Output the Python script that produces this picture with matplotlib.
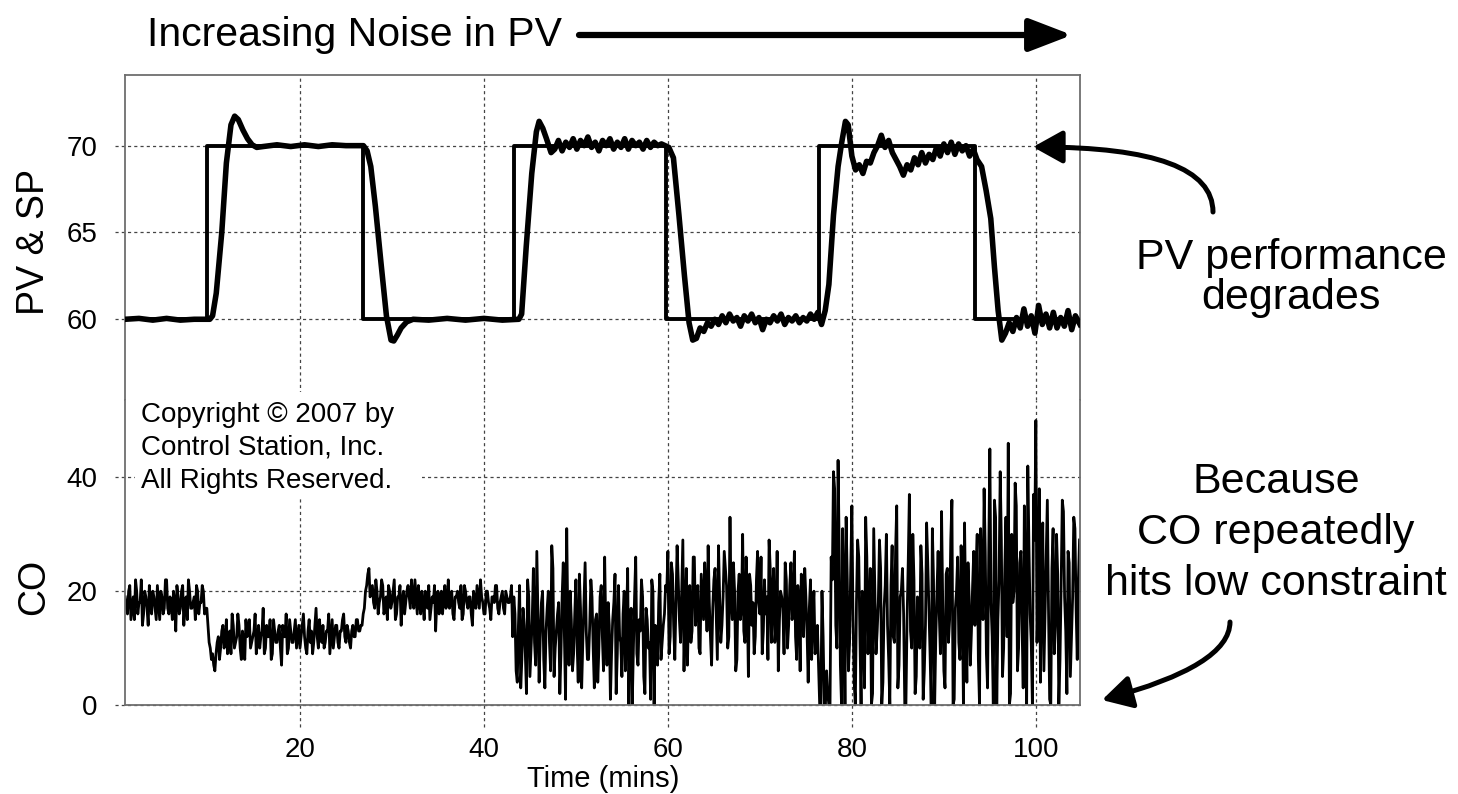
import numpy as np
import matplotlib
matplotlib.use('Agg')
import matplotlib.pyplot as plt
from matplotlib.patches import FancyArrowPatch, Rectangle

plt.rcParams['font.family'] = ['Liberation Sans', 'DejaVu Sans']

# set point (time, value), drawn as steps
sp_points = [(1.0, 60), (9.9, 70), (26.8, 60), (43.3, 70), (59.8, 60),
             (76.4, 70), (93.4, 60), (104.8, 60)]

# process variable (time, value)
pv_points = [
    (1.0, 60.0), (2.5, 60.05), (4.0, 59.95), (5.5, 60.05), (7.0, 59.95), (8.5, 60.0),
    (10.2, 60.0), (10.5, 60.2), (10.9, 61.5), (11.5, 65.0), (12.0, 69.0), (12.5, 71.2),
    (12.9, 71.7), (13.3, 71.5), (13.8, 70.9), (14.3, 70.4), (14.8, 70.05), (15.3, 69.9),
    (16.0, 69.95), (17.5, 70.05), (19.0, 69.95), (20.5, 70.05), (22.0, 69.95), (23.5, 70.05),
    (25.0, 70.0), (26.5, 70.0), (26.9, 70.0), (27.3, 69.7), (27.7, 68.8), (28.2, 66.5),
    (28.8, 63.3), (29.4, 60.2), (29.9, 58.8), (30.2, 58.75), (30.6, 59.1), (31.0, 59.5),
    (31.6, 59.85), (32.3, 60.0), (34.0, 59.95), (36.0, 60.05), (38.0, 59.95), (40.0, 60.05),
    (42.0, 59.95), (43.8, 60.0),
    (44.1, 60.3), (44.6, 64.2), (45.2, 68.4), (45.7, 70.8), (46.0, 71.4), (46.4, 71.0),
    (46.8, 70.4), (47.3, 69.6), (47.7, 69.8), (48.1, 70.3), (48.5, 69.7), (48.9, 70.2),
    (49.3, 69.9), (49.7, 70.4), (50.1, 69.8), (50.5, 70.3), (50.9, 70.0), (51.3, 70.5),
    (51.7, 69.9), (52.1, 70.2), (52.5, 69.7), (52.9, 70.3), (53.3, 70.0), (53.7, 70.4),
    (54.1, 69.8), (54.5, 70.2), (54.9, 69.9), (55.3, 70.4), (55.7, 69.8), (56.1, 70.3),
    (56.5, 70.0), (56.9, 70.2), (57.3, 69.8), (57.7, 70.3), (58.1, 69.9), (58.5, 70.2),
    (58.9, 70.0), (59.3, 70.1), (59.7, 70.0),
    (60.1, 69.9), (60.6, 69.3), (61.2, 66.0), (61.8, 62.5), (62.3, 59.8), (62.7, 58.8),
    (63.1, 58.9), (63.5, 59.5), (63.9, 59.3), (64.3, 59.8), (64.7, 59.6), (65.1, 60.0),
    (65.5, 59.7), (65.9, 60.2), (66.3, 59.8), (66.7, 60.3), (67.1, 59.9), (67.5, 60.1),
    (67.9, 59.6), (68.3, 60.2), (68.7, 59.9), (69.1, 60.3), (69.5, 59.8), (69.9, 60.1),
    (70.3, 59.4), (70.7, 60.0), (71.1, 59.8), (71.5, 60.2), (71.9, 59.9), (72.3, 60.3),
    (72.7, 59.7), (73.1, 60.1), (73.5, 59.9), (73.9, 60.2), (74.3, 59.8), (74.7, 60.1),
    (75.1, 59.9), (75.5, 60.3), (75.9, 60.0), (76.3, 60.4), (76.7, 59.7), (77.1, 60.5),
    (77.5, 62.0), (78.0, 66.0), (78.5, 68.8), (78.9, 70.2), (79.3, 71.4), (79.6, 71.2),
    (80.0, 69.4), (80.4, 68.6), (80.8, 68.9), (81.2, 68.4), (81.6, 69.1), (82.0, 69.0),
    (82.4, 69.6), (82.8, 70.0), (83.2, 70.6), (83.6, 69.9), (84.0, 70.3), (84.4, 69.6),
    (84.8, 69.2), (85.2, 68.8), (85.6, 68.3), (86.0, 68.9), (86.4, 68.6), (86.8, 69.3),
    (87.2, 68.9), (87.6, 69.6), (88.0, 69.0), (88.4, 69.5), (88.8, 69.2), (89.2, 69.9),
    (89.6, 69.4), (90.0, 70.1), (90.4, 69.6), (90.8, 70.2), (91.2, 69.5), (91.6, 70.1),
    (92.0, 69.7), (92.4, 70.0), (92.8, 69.4), (93.2, 69.8), (93.6, 69.2),
    (94.1, 68.8), (94.6, 67.4), (95.1, 65.8), (95.5, 63.0), (95.9, 60.5), (96.3, 58.8),
    (96.7, 59.2), (97.1, 59.8), (97.5, 59.3), (97.9, 60.1), (98.3, 59.5), (98.7, 60.6),
    (99.1, 59.6), (99.5, 60.2), (99.9, 59.2), (100.3, 60.8), (100.7, 59.7), (101.1, 60.3),
    (101.5, 59.5), (101.9, 60.4), (102.3, 59.5), (102.7, 60.1), (103.1, 59.6), (103.5, 60.5),
    (103.9, 59.4), (104.3, 60.2), (104.8, 59.7),
]

# controller output, one value every 0.25 min from t = 1.0
co_start = 1.0
co_step = 0.25
co_values = [
    # 1 - 9.75
    19, 16, 21, 17, 15, 20, 18, 22, 16, 19, 14, 18, 20, 17, 21, 15, 19, 17, 22, 16,
    18, 20, 13, 19, 17, 21, 18, 15, 20, 17, 19, 21, 16, 18, 20, 17,
    # 10 - 26.75
    14, 10, 9, 6, 11, 8, 13, 10, 15, 12, 9, 14, 11, 16, 10, 13, 8, 12, 15, 11,
    13, 9, 14, 12, 17, 10, 12, 15, 9, 13, 11, 14, 7, 12, 16, 10, 13, 11, 15, 12,
    10, 14, 12, 9, 15, 13, 11, 17, 10, 12, 14, 11, 13, 9, 15, 12, 14, 10, 13, 16,
    11, 13, 10, 14, 12, 15, 13, 14,
    # 27 - 43
    17, 21, 24, 20, 18, 22, 16, 19, 21, 17, 15, 20, 18, 22, 16, 19, 14, 20, 18, 21,
    17, 19, 22, 16, 18, 20, 15, 19, 21, 17, 18, 13, 20, 19, 16, 21, 18, 17, 20, 15,
    19, 18, 21, 16, 20, 17, 19, 14, 18, 21, 17, 19, 16, 20, 18, 15, 19, 21, 17, 18,
    20, 16, 19, 18, 21,
    # 43.25 - 59.75
    19, 6, 14, 3, 17, 9, 22, 5, 15, 11, 27, 4, 18, 8, 13, 20, 6, 24, 10, 16,
    2, 19, 12, 31, 7, 15, 9, 22, 4, 17, 11, 25, 8, 14, 19, 3, 16, 10, 21, 6,
    13, 18, 1, 15, 23, 9, 12, 5, 20, 14, 0, 17, 10, 26, 7, 13, 19, 2, 15, 11,
    22, 0, 12, 18, 8, 14, 21,
    # 60 - 76.25
    27, 12, 23, 8, 28, 15, 20, 6, 24, 17, 11, 26, 14, 21, 9, 19, 25, 13, 18, 7,
    22, 16, 28, 11, 19, 24, 10, 33, 15, 20, 8, 23, 17, 13, 26, 5, 21, 18, 12, 27,
    16, 9, 22, 19, 29, 11, 24, 14, 6, 20, 17, 25, 10, 21, 15, 27, 8, 18, 23, 12,
    19, 4, 22, 16, 9, 14,
    # 76.5 - 77.75
    0, 20, 0, 6, 0, 26,
    # 78 - 93.25
    41, 14, 43, 7, 31, 0, 22, 11, 35, 4, 18, 26, 0, 16, 33, 9, 24, 2, 20, 13,
    29, 0, 17, 30, 8, 21, 12, 27, 3, 19, 24, 0, 15, 37, 10, 22, 5, 18, 28, 1,
    14, 25, 9, 31, 0, 20, 16, 34, 6, 23, 11, 29, 0, 17, 26, 8, 21, 32, 4, 19,
    13, 27,
    # 93.5 - 104.75
    24, 8, 31, 15, 27, 3, 45, 12, 36, 0, 22, 29, 10, 33, 46, 2, 18, 39, 6, 25,
    14, 35, 0, 28, 11, 37, 50, 20, 4, 32, 16, 36, 1, 24, 9, 30, 0, 21, 34, 13,
    27, 5, 19, 31, 8, 29,
]

# controller output read in between, at t = 1.125, 1.375, ...
co_mid_values = [
    # 1.125 - 9.875
    17, 20, 15, 19, 22, 16, 18, 14, 20, 17, 21, 16, 19, 15, 18, 20, 16, 22, 17, 19,
    15, 18, 21, 16, 20, 14, 19, 22, 17, 18, 15, 20, 18, 21, 16, 17,
    # 10.125 - 26.875
    11, 8, 7, 9, 12, 10, 14, 11, 9, 13, 16, 10, 12, 14, 8, 11, 15, 13, 10, 12,
    16, 11, 10, 13, 9, 14, 12, 8, 15, 11, 13, 10, 14, 12, 9, 15, 11, 13, 10, 14,
    12, 16, 10, 13, 11, 9, 14, 12, 15, 11, 10, 13, 16, 12, 10, 14, 11, 13, 15, 12,
    14, 11, 13, 12, 15, 13, 14, 16,
    # 27.125 - 42.875
    20, 23, 19, 21, 17, 20, 18, 22, 16, 19, 21, 17, 20, 15, 19, 21, 18, 16, 20, 19,
    22, 17, 19, 21, 16, 18, 20, 17, 15, 19, 21, 18, 16, 20, 19, 17, 22, 18, 16, 19,
    20, 17, 15, 21, 18, 19, 16, 20, 17, 19, 22, 18, 16, 20, 17, 19, 18, 21, 16, 19,
    17, 20, 18, 19,
    # 43.125 - 59.625
    12, 16, 4, 21, 8, 14, 2, 19, 10, 24, 7, 15, 12, 20, 3, 17, 11, 28, 5, 13,
    18, 9, 25, 1, 14, 20, 6, 16, 11, 23, 3, 18, 13, 8, 22, 10, 15, 4, 19, 12,
    26, 7, 14, 9, 18, 2, 21, 11, 16, 6, 24, 13, 0, 19, 9, 15, 22, 5, 17, 10,
    1, 20, 14, 7, 23, 11, 16,
    # 59.875 - 76.125
    20, 9, 25, 14, 18, 22, 11, 29, 16, 7, 21, 13, 26, 18, 10, 23, 15, 20, 28, 12,
    17, 24, 8, 19, 14, 27, 21, 12, 18, 25, 6, 20, 15, 30, 11, 19, 23, 14, 9, 22,
    18, 26, 13, 16, 8, 24, 20, 11, 27, 15, 19, 9, 22, 14, 25, 17, 12, 21, 6, 19,
    24, 13, 17, 8, 20, 11,
    # 76.375 - 77.625
    7, 0, 12, 0, 2, 0,
    # 77.875 - 93.125
    22, 38, 10, 27, 0, 19, 33, 6, 24, 15, 0, 29, 12, 20, 3, 26, 17, 0, 31, 9,
    18, 24, 4, 21, 14, 0, 28, 11, 35, 7, 20, 16, 0, 25, 13, 30, 2, 19, 10, 23,
    6, 32, 17, 0, 22, 12, 27, 9, 18, 3, 24, 15, 36, 1, 20, 11, 28, 0, 16, 25,
    7, 21,
    # 93.375 - 104.625
    14, 30, 0, 21, 38, 9, 26, 18, 0, 33, 15, 41, 5, 24, 12, 0, 30, 20, 35, 10,
    27, 3, 19, 42, 16, 0, 29, 11, 38, 22, 6, 26, 17, 0, 31, 14, 23, 8, 36, 19,
    2, 25, 12, 33, 17, 22,
]

time_ticks = [20, 40, 60, 80, 100]
pv_ticks = [60, 65, 70]
co_ticks = [0, 20, 40]

W, H = 1458, 794


def fx(px):
    return px / W


def fy(py):
    return 1 - py / H


fig = plt.figure(figsize=(W / 100, H / 100), dpi=100)
ax_pv = fig.add_axes([fx(125), fy(400), fx(1080) - fx(125), fy(75) - fy(400)])
ax_co = fig.add_axes([fx(125), fy(705), fx(1080) - fx(125), fy(400) - fy(705)])

grid_style = dict(color='#444444', lw=0.9, ls=(0, (2.5, 2.5)), zorder=1)
ax_w = 1080 - 125

for ax in (ax_pv, ax_co):
    ax.set_xlim(0.98, 104.8)
    for side in ax.spines.values():
        side.set_color('#6e6e6e')
        side.set_linewidth(1.3)
    ax.tick_params(length=0, labelsize=20, pad=20)
ax_pv.spines['bottom'].set_visible(False)
ax_co.spines['top'].set_visible(False)

ax_pv.set_ylim(55.35, 74.07)
ax_co.set_ylim(0, 53.6)

# grid lines, run a little past the frame like tick marks
for v in pv_ticks:
    ax_pv.axhline(v, xmin=-10 / ax_w, xmax=1, clip_on=False, **grid_style)
for v in co_ticks:
    ax_co.axhline(v, xmin=-10 / ax_w, xmax=1, clip_on=False, **grid_style)
for t in time_ticks:
    ax_pv.axvline(t, **grid_style)
    ax_co.axvline(t, ymin=-22 / 305, ymax=1, clip_on=False, **grid_style)

sp_t, sp_v = zip(*sp_points)
pv_t, pv_v = zip(*pv_points)
ax_pv.plot(sp_t, sp_v, drawstyle='steps-post', color='black', lw=2.8, zorder=2)
ax_pv.plot(pv_t, pv_v, color='black', lw=4.0, solid_joinstyle='round', zorder=3)

# merge the two CO readings into one time-ordered trace
co_t = np.concatenate([co_start + co_step * np.arange(len(co_values)),
                       co_start + co_step / 2 + co_step * np.arange(len(co_mid_values))])
co_v = np.concatenate([co_values, co_mid_values])
order = np.argsort(co_t)
ax_co.plot(co_t[order], co_v[order], color='black', lw=2.0, zorder=2)

ax_pv.set_xticks([])
ax_pv.set_yticks(pv_ticks)
ax_co.set_yticks(co_ticks)
ax_co.set_xticks(time_ticks)
ax_co.tick_params(axis='x', pad=23)

fig.text(fx(603), fy(779), 'Time (mins)', fontsize=21, ha='center', va='center')
fig.text(fx(34), fy(242), 'PV & SP', fontsize=27, rotation=90, ha='center', va='center')
fig.text(fx(34), fy(587), 'CO', fontsize=27, rotation=90, ha='center', va='center')

# copyright box hides the grid behind it
fig.add_artist(Rectangle((fx(135), fy(498)), fx(422) - fx(135), fy(392) - fy(498),
                         transform=fig.transFigure, facecolor='white',
                         edgecolor='none', zorder=5))
fig.text(fx(141), fy(448), 'Copyright \u00a9 2007 by\nControl Station, Inc.\nAll Rights Reserved.',
         fontsize=20, ha='left', va='center', linespacing=1.37, zorder=6)

# title with arrow
fig.text(fx(147), fy(35), 'Increasing Noise in PV', fontsize=29.5, ha='left', va='center')
fig.add_artist(FancyArrowPatch((fx(579), fy(35)), (fx(1072), fy(35)),
                               transform=fig.transFigure,
                               arrowstyle='-|>,head_length=1.3,head_width=0.5',
                               mutation_scale=20, lw=4.5, color='black',
                               shrinkA=0, shrinkB=0))

# annotations on the right
fig.text(fx(1291), fy(278), 'PV performance\ndegrades', fontsize=31,
         ha='center', va='center', linespacing=1.0)
fig.add_artist(FancyArrowPatch((fx(1213), fy(212)), (fx(1033), fy(147)),
                               transform=fig.transFigure,
                               connectionstyle='angle3,angleA=90,angleB=0',
                               arrowstyle='-|>,head_length=0.9,head_width=0.5',
                               mutation_scale=20, lw=3.6, color='black',
                               shrinkA=0, shrinkB=0))

fig.text(fx(1276), fy(533), 'Because\nCO repeatedly\nhits low constraint', fontsize=31,
         ha='center', va='center', linespacing=1.35)
fig.add_artist(FancyArrowPatch((fx(1230), fy(622)), (fx(1102), fy(700)),
                               transform=fig.transFigure,
                               connectionstyle='angle3,angleA=90,angleB=15',
                               arrowstyle='-|>,head_length=0.9,head_width=0.5',
                               mutation_scale=20, lw=3.6, color='black',
                               shrinkA=0, shrinkB=0))

fig.savefig('out.png', dpi=100)
